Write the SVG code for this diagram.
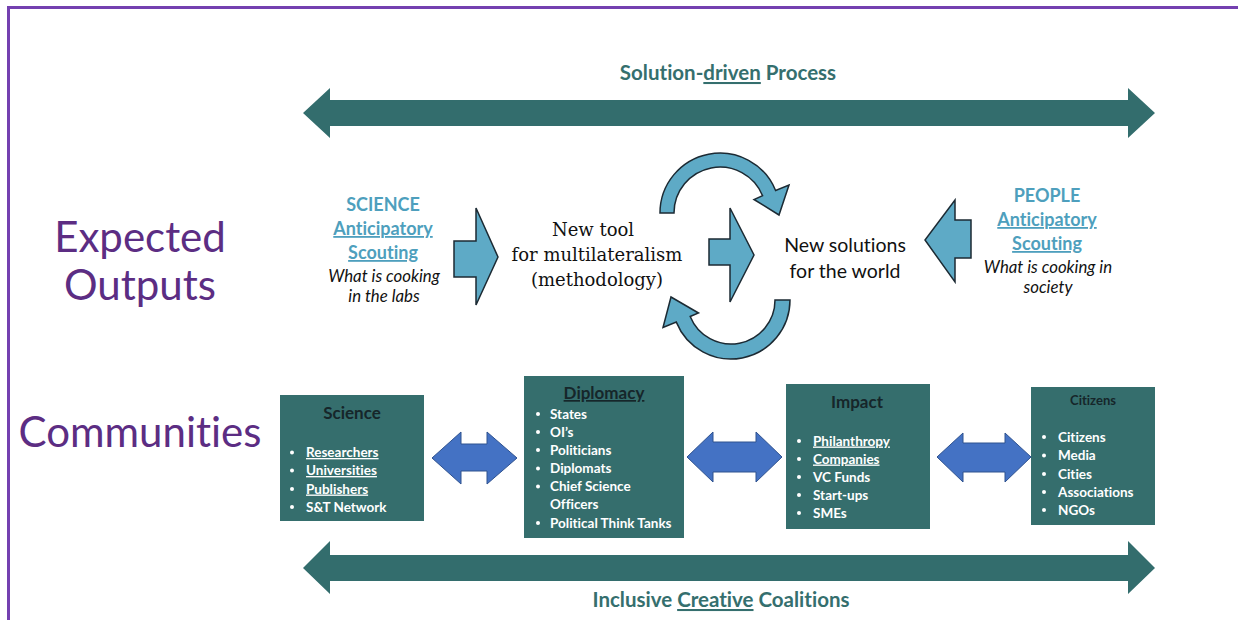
<svg xmlns="http://www.w3.org/2000/svg" width="1238" height="620" viewBox="0 0 1238 620">
  <style>
    text { font-variant-ligatures: none; }
    .side { font-family: Lato, "Open Sans", sans-serif; font-size: 42px; fill: #5c2d83; }
    .banner { font-family: Lato, "Open Sans", sans-serif; font-size: 20.5px; font-weight: bold; fill: #356f6e; text-anchor: middle; }
    .blue { font-family: Lato, "Open Sans", sans-serif; font-size: 18px; font-weight: bold; fill: #4e9fbd; text-anchor: middle; }
    .ital { font-family: Lato, "Open Sans", sans-serif; font-size: 16.8px; font-style: italic; fill: #111; text-anchor: middle; }
    .serif { font-family: "DejaVu Serif", serif; font-size: 18px; fill: #111; text-anchor: middle; }
    .sans { font-family: Lato, "Open Sans", sans-serif; font-size: 19.5px; fill: #111; text-anchor: middle; }
    .box { fill: #356e6d; }
    .title { font-family: Lato, "Open Sans", sans-serif; font-size: 17px; font-weight: bold; fill: #16262a; text-anchor: middle; }
    .item { font-family: Lato, "Open Sans", sans-serif; font-size: 13.5px; font-weight: bold; fill: #ffffff; }
    .dot { fill: #ffffff; }
    .big { fill: #336d6d; }
    .lb { fill: #5eaac6; stroke: #1c2a33; stroke-width: 1.5; stroke-linejoin: miter; }
    .dbl { fill: #4472c4; stroke: #2f528f; stroke-width: 1; }
    .u { text-decoration: underline; }
  </style>

  <!-- frame -->
  <path d="M 8.5 620 L 8.5 7.5 L 1238 7.5" fill="none" stroke="#7440b0" stroke-width="3"/>

  <!-- side labels -->
  <g id="label-expected">
    <text class="side" x="140" y="252" text-anchor="middle">Expected</text>
    <text class="side" x="140" y="300" text-anchor="middle">Outputs</text>
  </g>
  <g id="label-communities">
    <text class="side" x="140" y="447" text-anchor="middle">Communities</text>
  </g>

  <!-- banners -->
  <g id="process">
    <text class="banner" x="728" y="80">Solution-<tspan class="u">driven</tspan> Process</text>
  </g>
  <g id="coalitions">
    <text class="banner" x="721" y="607">Inclusive <tspan class="u">Creative</tspan> Coalitions</text>
  </g>

  <!-- science scouting -->
  <g id="science-scouting">
    <text class="blue" x="383" y="211">SCIENCE</text>
    <text class="blue" x="383" y="235"><tspan class="u">Anticipatory</tspan></text>
    <text class="blue" x="383" y="259"><tspan class="u">Scouting</tspan></text>
    <text class="ital" x="384" y="282">What is cooking</text>
    <text class="ital" x="384" y="302">in the labs</text>
  </g>

  <!-- people scouting -->
  <g id="people-scouting">
    <text class="blue" x="1047" y="202">PEOPLE</text>
    <text class="blue" x="1047" y="226"><tspan class="u">Anticipatory</tspan></text>
    <text class="blue" x="1047" y="250"><tspan class="u">Scouting</tspan></text>
    <text class="ital" x="1048" y="273">What is cooking in</text>
    <text class="ital" x="1048" y="293">society</text>
  </g>

  <g id="new-tool">
    <text class="serif" x="593" y="236">New tool</text>
    <text class="serif" x="597" y="261">for multilateralism</text>
    <text class="serif" x="597" y="286">(methodology)</text>
  </g>

  <g id="new-solutions">
    <text class="sans" x="845" y="252">New solutions</text>
    <text class="sans" x="845" y="278">for the world</text>
  </g>

  <!-- community boxes -->
  <g id="science">
    <rect class="box" x="280" y="395" width="144" height="126"/>
    <text class="title" x="352" y="419">Science</text>
    <circle class="dot" cx="292" cy="452.5" r="2"/>
    <circle class="dot" cx="292" cy="470.5" r="2"/>
    <circle class="dot" cx="292" cy="489" r="2"/>
    <circle class="dot" cx="292" cy="507" r="2"/>
    <text class="item" x="306" y="457"><tspan class="u">Researchers</tspan></text>
    <text class="item" x="306" y="475"><tspan class="u">Universities</tspan></text>
    <text class="item" x="306" y="493.5"><tspan class="u">Publishers</tspan></text>
    <text class="item" x="306" y="511.5">S&amp;T Network</text>
  </g>

  <g id="diplomacy">
    <rect class="box" x="524" y="376" width="160" height="162"/>
    <text class="title" x="604" y="399"><tspan class="u">Diplomacy</tspan></text>
    <circle class="dot" cx="538" cy="414" r="2"/>
    <circle class="dot" cx="538" cy="432" r="2"/>
    <circle class="dot" cx="538" cy="450" r="2"/>
    <circle class="dot" cx="538" cy="468.5" r="2"/>
    <circle class="dot" cx="538" cy="486.5" r="2"/>
    <circle class="dot" cx="538" cy="523" r="2"/>
    <text class="item" x="550" y="418.5">States</text>
    <text class="item" x="550" y="436.5">OI’s</text>
    <text class="item" x="550" y="454.5">Politicians</text>
    <text class="item" x="550" y="473">Diplomats</text>
    <text class="item" x="550" y="491">Chief Science</text>
    <text class="item" x="550" y="509">Officers</text>
    <text class="item" x="550" y="527.5">Political Think Tanks</text>
  </g>

  <g id="impact">
    <rect class="box" x="786" y="384" width="144" height="145"/>
    <text class="title" x="857" y="408">Impact</text>
    <circle class="dot" cx="799" cy="441" r="2"/>
    <circle class="dot" cx="799" cy="459" r="2"/>
    <circle class="dot" cx="799" cy="477" r="2"/>
    <circle class="dot" cx="799" cy="495" r="2"/>
    <circle class="dot" cx="799" cy="513" r="2"/>
    <text class="item" x="813" y="445.5"><tspan class="u">Philanthropy</tspan></text>
    <text class="item" x="813" y="463.5"><tspan class="u">Companies</tspan></text>
    <text class="item" x="813" y="481.5">VC Funds</text>
    <text class="item" x="813" y="499.5">Start-ups</text>
    <text class="item" x="813" y="517.5">SMEs</text>
  </g>

  <g id="citizens">
    <rect class="box" x="1031" y="387" width="124" height="138"/>
    <text class="title" x="1093" y="405" style="font-size:13px">Citizens</text>
    <circle class="dot" cx="1044" cy="437" r="2"/>
    <circle class="dot" cx="1044" cy="455.5" r="2"/>
    <circle class="dot" cx="1044" cy="474" r="2"/>
    <circle class="dot" cx="1044" cy="492" r="2"/>
    <circle class="dot" cx="1044" cy="510" r="2"/>
    <text class="item" x="1058" y="441.5">Citizens</text>
    <text class="item" x="1058" y="460">Media</text>
    <text class="item" x="1058" y="478.5">Cities</text>
    <text class="item" x="1058" y="496.5">Associations</text>
    <text class="item" x="1058" y="514.5">NGOs</text>
  </g>

  <!-- connectors -->
  <g id="connectors">
    <polygon class="big" points="303,113 330,88 330,100 1128,100 1128,88 1155,113 1128,138 1128,126 330,126 330,138"/>
    <polygon class="big" points="303,568 330,541 330,555 1128,555 1128,541 1155,568 1128,594 1128,581 330,581 330,594"/>

    <polygon class="lb" points="454,241 476,241 476,208 498,257 476,305 476,277 454,277"/>
    <polygon class="lb" points="709,239 730,239 730,208 754,255 730,302 730,265 709,265"/>
    <polygon class="lb" points="971,220 955,220 955,200 925,240 955,282 955,258 971,258"/>

    <path class="lb" d="M 660 213 A 60 60 0 0 1 775.6 190.5 L 789 185 L 779 215 L 754 199.5 L 762.6 195.7 A 46 46 0 0 0 674 213 Z"/>
    <path class="lb" d="M 790 300 A 59 59 0 0 1 676.3 322.1 L 663 327.5 L 671 297 L 698.5 313 L 690.2 316.5 A 44 44 0 0 0 775 300 Z"/>

    <polygon class="dbl" points="432,458 461,432 461,444 487,444 487,432 517,458 487,484 487,471 461,471 461,484"/>
    <polygon class="dbl" points="687,457 713,432 713,442 756,442 756,432 782,457 756,482 756,472 713,472 713,482"/>
    <polygon class="dbl" points="937,457 963,433 963,443 1005,443 1005,433 1031,457 1005,482 1005,472 963,472 963,482"/>
  </g>
</svg>
